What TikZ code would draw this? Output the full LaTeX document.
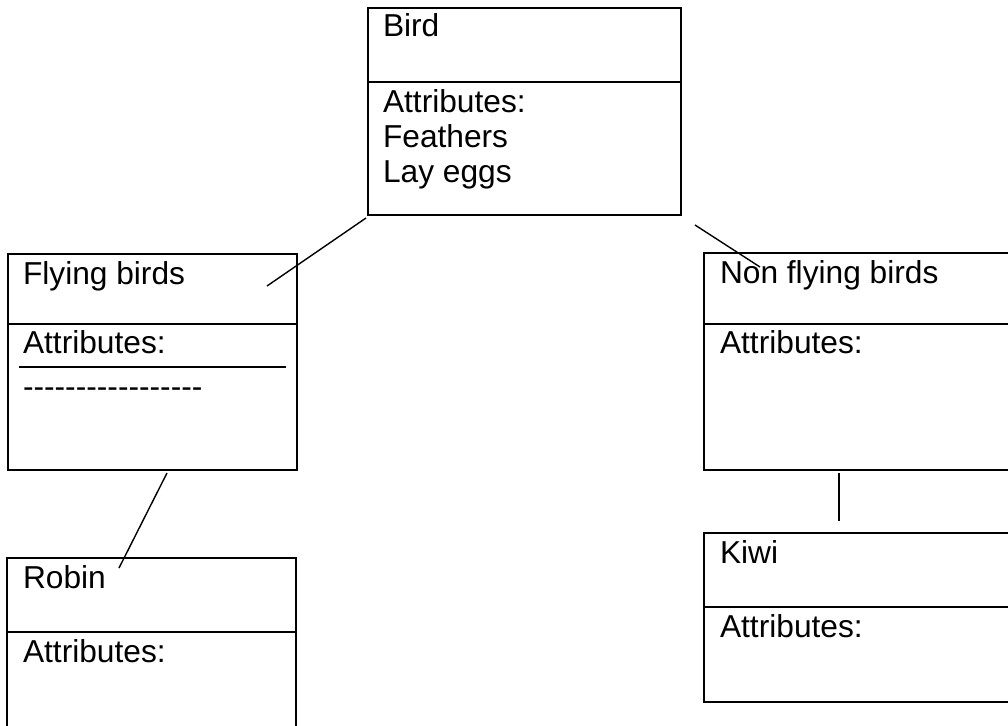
\documentclass[tikz,border=0pt]{standalone}
\usepackage{fontspec}
\setmainfont{Liberation Sans}
\newfontfamily\nolig{Liberation Sans}[Ligatures=TeXOff]
\usetikzlibrary{calc}
\begin{document}
\begin{tikzpicture}[x=1pt,y=-1pt,
  umlbox/.style={draw=black,line width=2pt,rectangle,inner sep=0pt,outer sep=0pt,anchor=north west},
  divline/.style={draw=black,line width=2pt},
  lbl/.style={inner sep=0pt,outer sep=0pt,anchor=base west,font=\fontsize{31.7}{35}\selectfont},
  conn/.style={draw=black,line width=1.4pt}]
\useasboundingbox (0,0) rectangle (1008,725);
% Bird
\node[umlbox,minimum width=313,minimum height=207] (bird) at (368,8) {};
\draw[divline] ($(bird.north west)+(0,74)$) -- ($(bird.north east)+(0,74)$);
\node[lbl] (birdT) at (383,37) {Bird};
\node[lbl] (birdA1) at (383,112) {Attributes:};
\node[lbl] (birdA2) at (383,147) {Feathers};
\node[lbl] (birdA3) at (383,182) {Lay eggs};
% Flying birds
\node[umlbox,minimum width=289,minimum height=216] (fly) at (8,254) {};
\draw[divline] ($(fly.north west)+(0,70)$) -- ($(fly.north east)+(0,70)$);
\node[lbl] (flyT) at (23,284) {Flying birds};
\node[lbl] (flyA) at (23,353) {Attributes:};
\coordinate (flyL1) at (19,367);
\coordinate (flyL2) at (286,367);
\draw[line width=1.6pt] (flyL1) -- (flyL2);
\node[lbl] (flyD) at (23,397) {\nolig -----------------};
% Non flying birds
\node[umlbox,minimum width=311,minimum height=217] (nfly) at (704,253) {};
\draw[divline] ($(nfly.north west)+(0,71)$) -- ($(nfly.north east)+(0,71)$);
\node[lbl] (nflyT) at (720,283) {Non flying birds};
\node[lbl] (nflyA) at (720,353) {Attributes:};
% Robin
\node[umlbox,minimum width=289,minimum height=182] (robin) at (7,558) {};
\draw[divline] ($(robin.north west)+(0,74)$) -- ($(robin.north east)+(0,74)$);
\node[lbl] (robinT) at (23,588) {Robin};
\node[lbl] (robinA) at (23,662) {Attributes:};
% Kiwi
\node[umlbox,minimum width=311,minimum height=169] (kiwi) at (704,533) {};
\draw[divline] ($(kiwi.north west)+(0,74)$) -- ($(kiwi.north east)+(0,74)$);
\node[lbl] (kiwiT) at (720,563) {Kiwi};
\node[lbl] (kiwiA) at (720,637) {Attributes:};
% connectors
\coordinate (c1a) at (366,218);
\coordinate (c1b) at (267,286);
\coordinate (c2a) at (695,225);
\coordinate (c2b) at (760,267);
\coordinate (c3a) at (167,473);
\coordinate (c3b) at (119,568);
\coordinate (c4a) at (839,473);
\coordinate (c4b) at (839,521);
\draw[conn] (c1a) -- (c1b);
\draw[conn] (c2a) -- (c2b);
\draw[conn] (c3a) -- (c3b);
\draw[conn] (c4a) -- (c4b);
\end{tikzpicture}
\end{document}
